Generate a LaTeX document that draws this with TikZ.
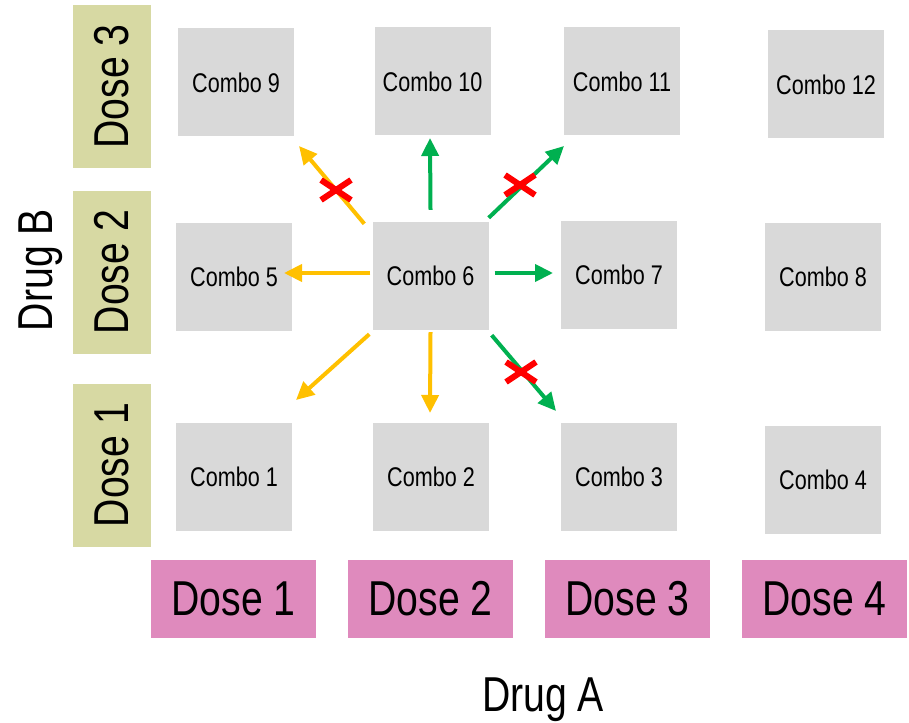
\documentclass[tikz,border=0pt]{standalone}
\usepackage{fontspec}
\setmainfont{Liberation Sans}[FakeStretch=0.8]
\usetikzlibrary{arrows.meta}

\definecolor{boxgray}{HTML}{D9D9D9}
\definecolor{olivedose}{HTML}{D7D9A3}
\definecolor{pinkdose}{HTML}{DF8ABD}
\definecolor{arrowyellow}{HTML}{FFC000}
\definecolor{arrowgreen}{HTML}{00B050}
\definecolor{crossred}{HTML}{FF0000}

\begin{document}
\begin{tikzpicture}[x=1pt,y=-1pt,
  combo/.style={fill=boxgray, minimum width=116pt, minimum height=108pt,
    inner sep=0pt, font=\fontsize{27}{32}\selectfont},
  doseb/.style={fill=olivedose, minimum width=163pt, minimum height=78pt,
    inner sep=0pt, rotate=90, font=\fontsize{49}{58}\selectfont},
  dosea/.style={fill=pinkdose, minimum width=165pt, minimum height=78pt,
    inner sep=0pt, font=\fontsize{49}{58}\selectfont},
  axislabel/.style={inner sep=0pt, font=\fontsize{49}{58}\selectfont},
  yarrow/.style={draw=arrowyellow, line width=4pt,
    -{Triangle[length=18pt,width=17pt]}},
  garrow/.style={draw=arrowgreen, line width=4pt,
    -{Triangle[length=18pt,width=17pt]}},
  crossmark/.pic={\draw[crossred, line width=6pt]
    (-15,-10) -- (15,10) (-15,10) -- (15,-10);},
]
\useasboundingbox (0,0) rectangle (909,722);

% combination grid
\node[combo] (c9)  at (236,82.5)  {Combo 9};
\node[combo] (c10) at (432.5,81.5) {Combo 10};
\node[combo] (c11) at (622,81.5)  {Combo 11};
\node[combo] (c12) at (826,84.5)  {Combo 12};
\node[combo] (c5)  at (234,277)   {Combo 5};
\node[combo] (c6)  at (430.5,276) {Combo 6};
\node[combo] (c7)  at (619,275)   {Combo 7};
\node[combo] (c8)  at (823,277)   {Combo 8};
\node[combo] (c1)  at (234,477)   {Combo 1};
\node[combo] (c2)  at (431,477)   {Combo 2};
\node[combo] (c3)  at (619,476.5) {Combo 3};
\node[combo] (c4)  at (823,479.5) {Combo 4};

% Drug B doses
\node[doseb] (b3) at (112,86.5) {Dose 3};
\node[doseb] (b2) at (112,272)  {Dose 2};
\node[doseb] (b1) at (112,465)  {Dose 1};
\node[axislabel, rotate=90] (drugb) at (41,270) {Drug B};

% Drug A doses
\node[dosea] (a1) at (233.5,599) {Dose 1};
\node[dosea] (a2) at (430.5,599) {Dose 2};
\node[dosea] (a3) at (627.5,599) {Dose 3};
\node[dosea] (a4) at (824.5,599) {Dose 4};
\node[axislabel] (druga) at (543,700) {Drug A};

% arrow ends around Combo 6
\coordinate (e5)  at (284,273);
\coordinate (e7)  at (553,273);
\coordinate (e10) at (430,138);
\coordinate (e2)  at (430,413);
\coordinate (e9)  at (299,146);
\coordinate (e11) at (564,146);
\coordinate (e1)  at (296,400);
\coordinate (e3)  at (556,411);

\draw[yarrow] ([xshift=-2pt,yshift=3pt]c6.west) -- (e5);
\draw[garrow] ([xshift=6pt,yshift=3pt]c6.east) -- (e7);
\draw[garrow] ([yshift=12pt]c6.north) -- (e10);
\draw[yarrow] ([yshift=-2pt]c6.south) -- (e2);
\draw[yarrow] ([xshift=-8pt,yshift=-2pt]c6.north west) -- (e9);
\draw[garrow] ([yshift=4pt]c6.north east) -- (e11);
\draw[yarrow] ([xshift=-3pt,yshift=-4pt]c6.south west) -- (e1);
\draw[garrow] ([xshift=3pt,yshift=-5pt]c6.south east) -- (e3);

% blocked directions
\pic at (336,190) {crossmark};
\pic at (520,185) {crossmark};
\pic at (521,372) {crossmark};
\end{tikzpicture}
\end{document}
